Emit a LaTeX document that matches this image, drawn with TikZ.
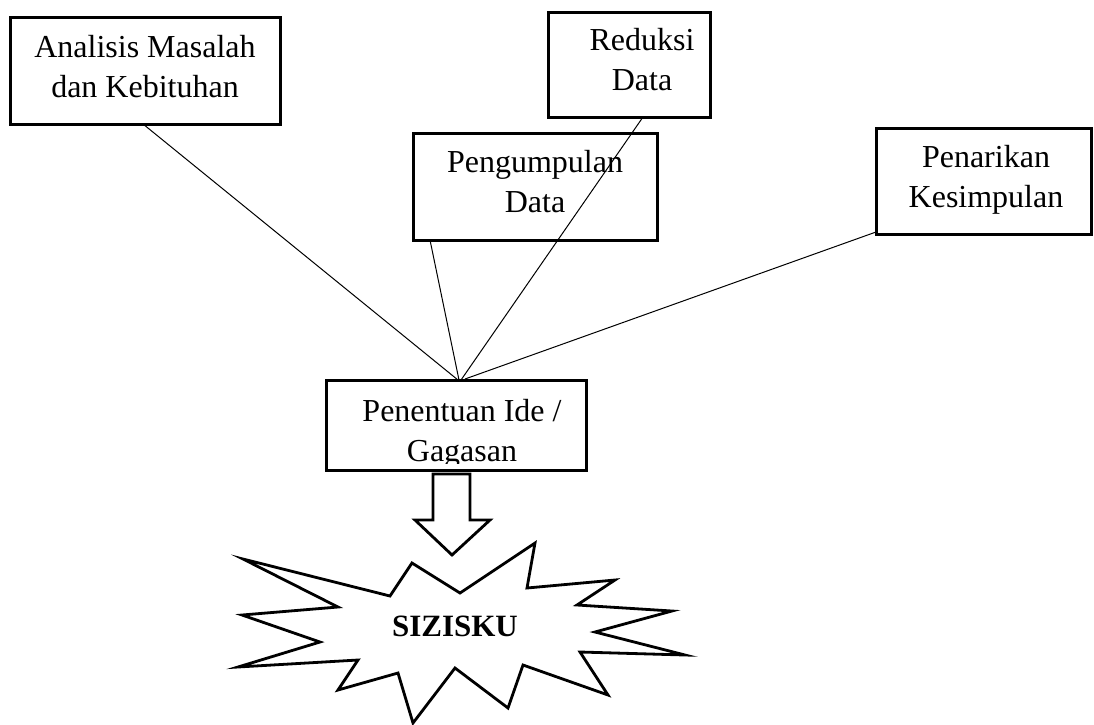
\documentclass[tikz,border=0pt]{standalone}
\usepackage{fontspec}
\setmainfont{Liberation Serif}
\usetikzlibrary{calc}
\tikzset{
  boxnode/.style={draw, line width=3pt, inner sep=0pt, outer sep=0pt, anchor=north west},
  txt/.style={align=center, inner sep=0pt, anchor=base, font=\fontsize{32}{40}\selectfont},
  link/.style={line width=1pt},
  bigshape/.style={line width=2.8pt, line join=miter}
}
\begin{document}
\begin{tikzpicture}[x=1pt,y=-1pt]
\useasboundingbox (0,0) rectangle (1094,724);
% boxes
\node[boxnode, minimum width=270pt, minimum height=107pt] (ana) at (10,17) {};
\node[boxnode, minimum width=162pt, minimum height=105pt] (red) at (548,12) {};
\node[boxnode, minimum width=244pt, minimum height=107pt] (pg) at (413,133) {};
\node[boxnode, minimum width=215pt, minimum height=106pt] (pk) at (876,128) {};
\node[boxnode, minimum width=260pt, minimum height=90pt] (pen) at (326,380) {};
% texts (anchor base = last line's baseline)
\node[txt] (tana) at (145,97) {Analisis Masalah\\dan Kebituhan};
\node[txt] (tred) at (642,90) {Reduksi\\Data};
\node[txt] (tpg) at (535,212) {Pengumpulan\\Data};
\node[txt] (tpk) at (986,207) {Penarikan\\Kesimpulan};
\begin{scope}
\clip (327,381) rectangle (585,463.5);
\node[txt] (tpen) at (462,461) {Penentuan Ide /\\Gagasan};
\end{scope}
% connectors
\draw[link] ($(ana.south west)+(133,0)$) -- ($(pen.north west)+(132,0)$);
\draw[link] ($(pg.south west)+(17,0)$) -- ($(pen.north west)+(133,0)$);
\draw[link] ($(red.south west)+(95,0)$) -- ($(pen.north west)+(135,0)$);
\draw[link] ($(pk.south west)+(0,-2)$) -- ($(pen.north west)+(139,-1)$);
% block arrow
\draw[bigshape] (433,474) -- (470,474) -- (470,520) -- (490,520) -- (452,555) -- (415,520) -- (433,520) -- cycle;
% star
\draw[bigshape] (243,559) -- (390,596) -- (412,563) -- (460,593) -- (535,543) -- (527,588) -- (615,580) -- (577,605) -- (672,611) -- (595,632) -- (685,655) -- (580,652) -- (608,695) -- (523,665) -- (508,708) -- (455,668) -- (413,723) -- (398,673) -- (338,690) -- (358,660) -- (238,667) -- (320,642) -- (242,615) -- (338,607) -- cycle;
\node[txt, font=\fontsize{31}{37}\selectfont\bfseries] (siz) at (455,636) {SIZISKU};
\end{tikzpicture}
\end{document}
